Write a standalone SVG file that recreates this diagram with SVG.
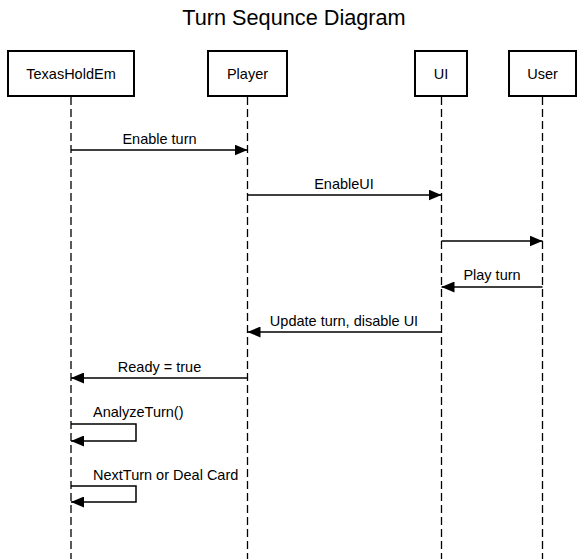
<svg xmlns="http://www.w3.org/2000/svg" width="584" height="559" viewBox="0 0 584 559">
<style>
.box{fill:#fff;stroke:#000;stroke-width:2}
.life{stroke:#000;stroke-width:1.3;stroke-dasharray:8 4;fill:none}
.t{font-family:"Liberation Sans",Arial,sans-serif;font-size:14.5px;fill:#000}
.c{text-anchor:middle}
.msg{stroke:#000;stroke-width:1.5;fill:none}
</style>
<defs>
<marker id="ah" markerWidth="13" markerHeight="11" refX="13" refY="5.5" orient="auto" markerUnits="userSpaceOnUse">
<path d="M0,0 L13,5.5 L0,11 Z" fill="#000"/>
</marker>
</defs>
<rect width="584" height="559" fill="#fff"/>
<text x="294" y="25" font-family="'Liberation Sans',Arial,sans-serif" font-size="21.7" text-anchor="middle" fill="#000">Turn Sequnce Diagram</text>
<g id="lifelines">
<line class="life" x1="71" y1="97" x2="71" y2="559"/>
<line class="life" x1="247.5" y1="97" x2="247.5" y2="559"/>
<line class="life" x1="441.5" y1="97" x2="441.5" y2="559"/>
<line class="life" x1="542.5" y1="97" x2="542.5" y2="559"/>
</g>
<g id="TexasHoldEm"><rect class="box" x="8" y="51" width="126" height="45"/><text class="t c" x="71" y="78.5">TexasHoldEm</text></g>
<g id="Player"><rect class="box" x="208" y="51" width="79" height="45"/><text class="t c" x="247.5" y="78.5">Player</text></g>
<g id="UI"><rect class="box" x="415" y="51" width="52" height="45"/><text class="t c" x="441" y="78.5">UI</text></g>
<g id="User"><rect class="box" x="509" y="51" width="67" height="45"/><text class="t c" x="542.5" y="78.5">User</text></g>
<g id="connectors">
<line class="msg" x1="71" y1="150" x2="247.5" y2="150" marker-end="url(#ah)"/>
<text class="t c" x="159.5" y="143.5">Enable turn</text>
<line class="msg" x1="247.5" y1="195" x2="441.5" y2="195" marker-end="url(#ah)"/>
<text class="t c" x="344" y="188.5">EnableUI</text>
<line class="msg" x1="441.5" y1="241" x2="542.5" y2="241" marker-end="url(#ah)"/>
<line class="msg" x1="542.5" y1="287" x2="441.5" y2="287" marker-end="url(#ah)"/>
<text class="t c" x="492" y="279.5">Play turn</text>
<line class="msg" x1="441.5" y1="332" x2="247.5" y2="332" marker-end="url(#ah)"/>
<text class="t c" x="344" y="325.5">Update turn, disable UI</text>
<line class="msg" x1="247.5" y1="378" x2="71" y2="378" marker-end="url(#ah)"/>
<text class="t c" x="159.5" y="371.5">Ready = true</text>
<path class="msg" d="M71,424 H136 V441 H71" marker-end="url(#ah)"/>
<text class="t" x="93" y="416.5">AnalyzeTurn()</text>
<path class="msg" d="M71,486 H136 V502 H71" marker-end="url(#ah)"/>
<text class="t" x="93" y="479.5">NextTurn or Deal Card</text>
</g>
</svg>
